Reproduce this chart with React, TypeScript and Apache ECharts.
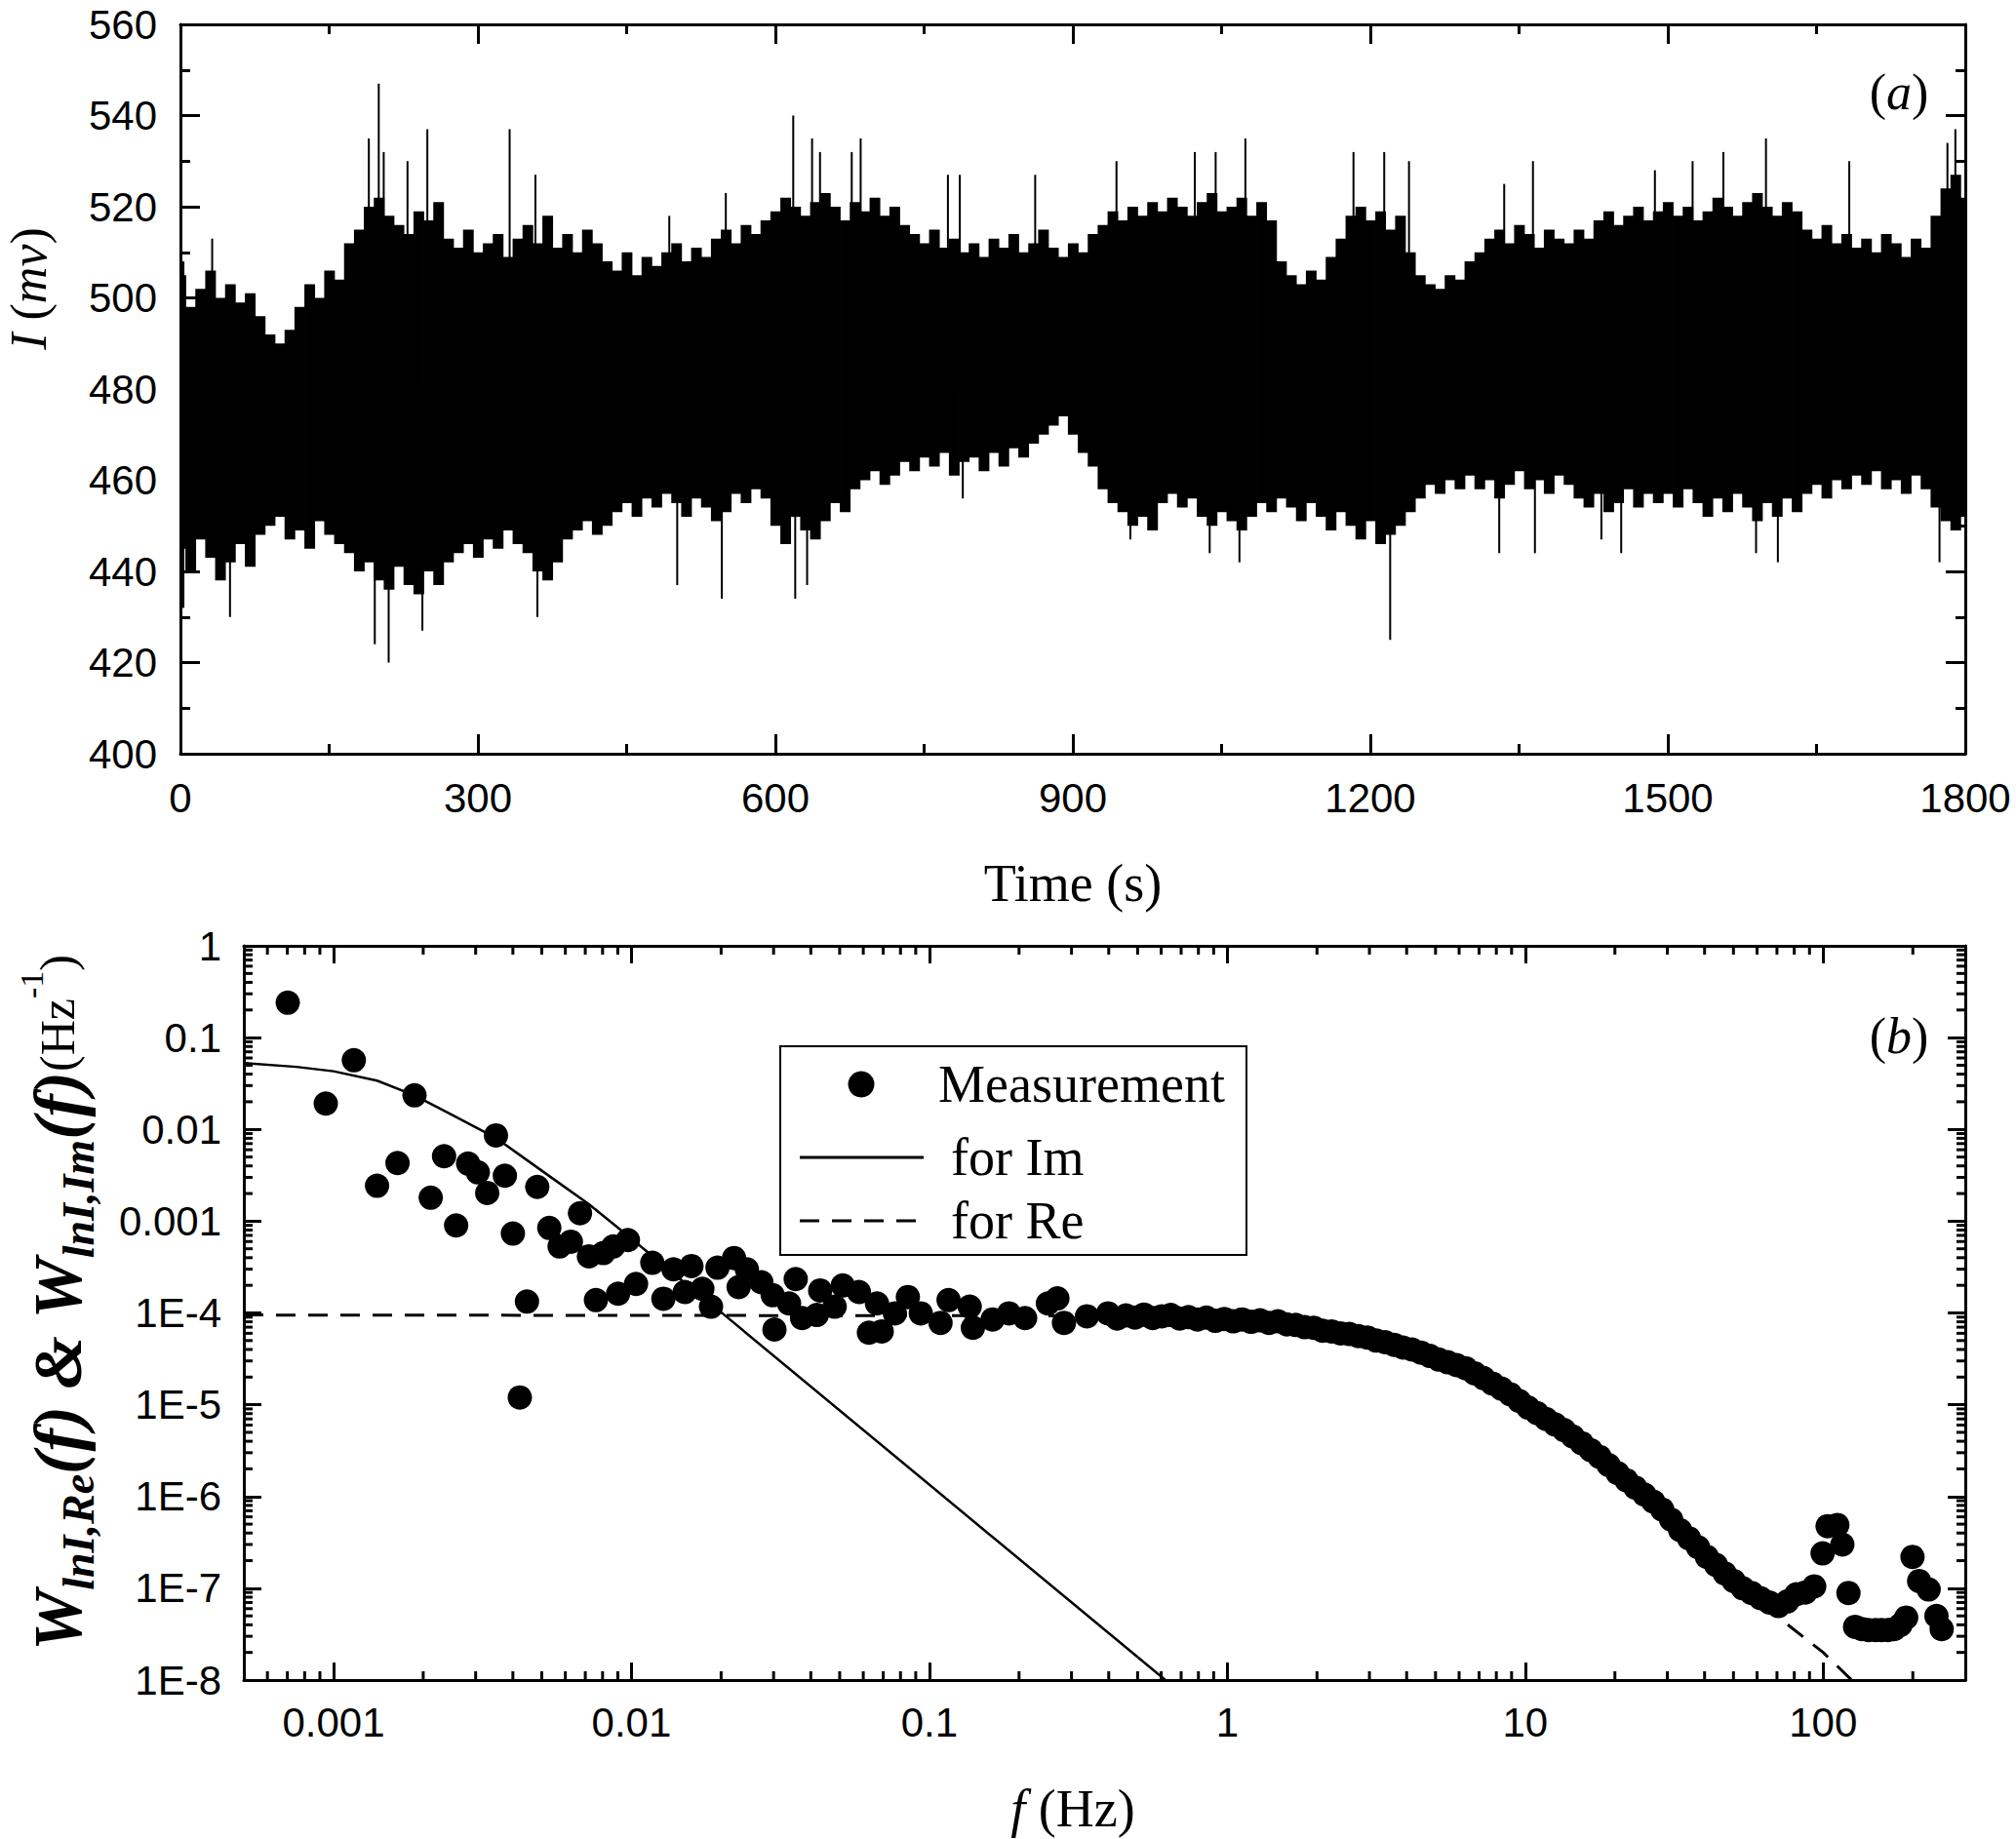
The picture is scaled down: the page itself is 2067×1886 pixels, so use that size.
import React, { useEffect, useRef } from 'react';
import * as echarts from 'echarts';

// ---- panel (a): current trace, read as 10 s envelope bins ----
const TIME_STEP = 10;
const upperEnv = [
  505, 498, 502, 506, 500, 503, 499, 501, 496, 492,
  490, 493, 498, 503, 500, 506, 504, 512, 515, 520,
  522, 518, 516, 514, 519, 517, 521, 513, 511, 515,
  510, 512, 514, 509, 513, 516, 512, 518, 511, 514,
  510, 515, 512, 508, 506, 510, 505, 509, 507, 510,
  512, 508, 511, 509, 513, 515, 512, 516, 514, 517,
  519, 522, 520, 518, 521, 523, 520, 517, 521, 519,
  522, 518, 520, 516, 514, 512, 515, 511, 513, 510,
  512, 509, 513, 511, 514, 510, 512, 515, 511, 509,
  512, 510, 514, 516, 519, 517, 520, 518, 521, 519,
  522, 520, 518, 521, 523, 519, 520, 522, 518, 521,
  517, 508, 505, 503, 506, 504, 509, 513, 518, 520,
  517, 519, 515, 518, 510, 505, 503, 502, 505, 504,
  508, 510, 513, 515, 512, 516, 514, 511, 515, 513,
  512, 515, 513, 517, 519, 516, 518, 520, 517, 519,
  521, 518, 520, 517, 519, 522, 520, 518, 521, 523,
  520, 518, 521, 519, 515, 513, 516, 512, 514, 511,
  513, 510, 514, 512, 509, 513, 511, 518, 524, 527,
  522,
];
const lowerEnv = [
  445, 440, 447, 443, 438, 442, 446, 441, 448, 450,
  452, 447, 449, 445, 451, 448, 446, 444, 440, 442,
  438, 436, 441, 437, 435, 440, 437, 442, 444, 446,
  443, 447, 445, 449, 446, 444, 440, 438, 442, 447,
  449, 451, 448, 450, 453, 455, 452, 456, 454, 457,
  455, 452, 456, 454, 451, 453, 457, 455, 458, 456,
  450, 446, 452, 449, 447, 451, 455, 453, 458, 460,
  462, 459, 461, 464, 462, 465, 463, 466, 461, 464,
  465, 462, 466, 463, 467, 465, 468, 470, 472, 474,
  470, 466, 463, 458, 455, 453, 450, 452, 449, 455,
  457, 454, 456, 452, 450, 453, 451, 449, 452, 455,
  453, 456, 454, 451, 455, 452, 449, 453, 450, 447,
  451, 446, 448, 450, 453, 456, 459, 457, 460, 458,
  461, 458, 460, 456, 459, 462, 458, 460, 457, 461,
  459, 456, 454, 457, 453, 455, 458, 454, 457, 455,
  457, 454, 458, 455, 452, 456, 453, 457, 454, 451,
  455, 452, 456, 453, 457, 459, 456, 460, 458, 461,
  459, 462, 458, 460, 457, 461, 458, 454, 451, 449,
  452,
];
const SPIKE_BASE = 480;
const spikeUpTime = [3, 32, 190, 200, 205, 229, 249, 332, 358, 493, 550, 618, 637, 645, 677, 686, 774, 786, 862, 944, 1023, 1044, 1074, 1183, 1214, 1239, 1335, 1364, 1487, 1525, 1556, 1599, 1683, 1782, 1790];
const spikeUpValue = [508, 513, 535, 547, 532, 530, 537, 537, 527, 518, 523, 540, 535, 532, 532, 535, 527, 527, 527, 530, 532, 532, 535, 532, 532, 530, 525, 530, 528, 530, 532, 535, 530, 534, 537];
const spikeDownTime = [3, 50, 196, 210, 244, 360, 501, 546, 620, 632, 789, 958, 1038, 1068, 1220, 1330, 1366, 1433, 1453, 1589, 1611, 1774, 1788];
const spikeDownValue = [432, 430, 424, 420, 427, 430, 437, 434, 434, 437, 456, 447, 444, 442, 425, 444, 444, 447, 444, 444, 442, 442, 449];

// ---- panel (b): spectra ----
const measFreq = [
  0.000702, 0.000942, 0.00117, 0.0014, 0.00164, 0.00187, 0.00212, 0.00235, 0.00258, 0.00283,
  0.00305, 0.00328, 0.00351, 0.00376, 0.004, 0.00422, 0.00446, 0.00483, 0.0053, 0.00574,
  0.00626, 0.00672, 0.0072, 0.0076, 0.00805, 0.00869, 0.00902, 0.00973, 0.01036, 0.01175,
  0.0128, 0.01384, 0.0151, 0.0159, 0.0173, 0.0185, 0.01945, 0.0221, 0.0229, 0.0244,
  0.0273, 0.0298, 0.0302, 0.0338, 0.0356, 0.0374, 0.0419, 0.043, 0.0481, 0.0512,
  0.058, 0.0627, 0.0667, 0.0692, 0.0766, 0.0847, 0.0936, 0.109, 0.116, 0.1366,
  0.14, 0.163, 0.185, 0.2096, 0.25, 0.269, 0.283, 0.338,
  0.398, 0.427, 0.457, 0.49, 0.525, 0.562, 0.603, 0.646, 0.692, 0.741,
  0.794, 0.851, 0.912, 0.977, 1.047, 1.122, 1.202, 1.288, 1.38, 1.479,
  1.585, 1.698, 1.82, 1.95, 2.089, 2.239, 2.399, 2.57, 2.754, 2.951,
  3.162, 3.388, 3.631, 3.89, 4.169, 4.467, 4.786, 5.129, 5.495, 5.888,
  6.31, 6.761, 7.244, 7.762, 8.318, 8.913, 9.55, 10.23, 10.96, 11.75,
  12.59, 13.49, 14.45, 15.49, 16.6, 17.78, 19.05, 20.42, 21.88, 23.44,
  25.12, 26.92, 28.84, 30.9, 33.11, 35.48, 38.02, 40.74, 43.65, 46.77,
  50.12, 53.7, 57.54, 61.66, 66.07, 70.79, 75.86, 81.28, 87.1, 93.33,
  99.6, 103.5, 111.6, 116, 121.6, 128, 135, 142, 150, 157,
  165, 173, 182, 190, 199.5, 210, 226, 240, 250,
];
const measValue = [
  0.24, 0.0191, 0.0567, 0.00243, 0.0043, 0.0235, 0.0018, 0.0051, 0.000898, 0.00424,
  0.0034, 0.00203, 0.0086, 0.00313, 0.000733, 1.2e-5, 0.000133, 0.00236, 0.000843, 0.00053,
  0.000598, 0.00122, 0.000414, 0.000138, 0.000449, 0.00053, 0.000162, 0.000622, 0.000207, 0.000352,
  0.000143, 0.000299, 0.000169, 0.000324, 0.000183, 0.000117, 0.000311, 0.000397, 0.000191, 0.000299,
  0.000216, 0.000156, 6.6e-5, 0.000127, 0.000234, 8.8e-5, 9.5e-5, 0.000176, 0.000117, 0.000199,
  0.000169, 6.1e-5, 0.000127, 6.3e-5, 9.9e-5, 0.000149, 9.9e-5, 7.8e-5, 0.000138, 0.000117,
  6.9e-5, 8.5e-5, 9.9e-5, 8.8e-5, 0.000127, 0.000144, 7.8e-5, 9.2e-5,
  9.9e-5, 8.7e-5, 9.4e-5, 8.9e-5, 9.6e-5, 8.8e-5, 9.2e-5, 9.5e-5, 8.7e-5, 9.0e-5,
  8.5e-5, 8.9e-5, 8.2e-5, 8.6e-5, 8.1e-5, 8.5e-5, 8.0e-5, 8.3e-5, 7.8e-5, 8.1e-5,
  7.5e-5, 7.4e-5, 7.0e-5, 6.9e-5, 6.4e-5, 6.3e-5, 6.0e-5, 5.9e-5, 5.6e-5, 5.4e-5,
  5.0e-5, 4.8e-5, 4.5e-5, 4.2e-5, 4.0e-5, 3.7e-5, 3.4e-5, 3.1e-5, 2.9e-5, 2.7e-5,
  2.5e-5, 2.2e-5, 1.95e-5, 1.7e-5, 1.5e-5, 1.3e-5, 1.1e-5, 9.3e-6, 8.1e-6, 7.0e-6,
  6.1e-6, 5.3e-6, 4.5e-6, 3.8e-6, 3.2e-6, 2.7e-6, 2.2e-6, 1.8e-6, 1.5e-6, 1.25e-6,
  1.05e-6, 8.8e-7, 7.2e-7, 5.6e-7, 4.3e-7, 3.5e-7, 2.8e-7, 2.2e-7, 1.8e-7, 1.45e-7,
  1.2e-7, 1.0e-7, 8.9e-8, 7.8e-8, 7.0e-8, 6.4e-8, 7.2e-8, 8.6e-8, 9.0e-8, 1.05e-7,
  2.4e-7, 4.75e-7, 4.9e-7, 3.0e-7, 8.9e-8, 3.8e-8, 3.6e-8, 3.5e-8, 3.5e-8, 3.5e-8,
  3.5e-8, 3.6e-8, 4.0e-8, 4.8e-8, 2.2e-7, 1.2e-7, 9.7e-8, 5.0e-8, 3.6e-8,
];
const imFreq = [0.0005, 0.00075, 0.001, 0.0014, 0.00187, 0.0025, 0.0035, 0.0053, 0.0072, 0.0097, 0.014, 0.0202, 0.62];
const imValue = [0.053, 0.048, 0.043, 0.034, 0.0235, 0.0144, 0.0081, 0.0031, 0.00153, 0.0007, 0.00026, 9.9e-5, 1e-8];
const reFreq = [0.0005, 0.3, 1, 2, 3, 4.3, 6.3, 10, 15.5, 21.5, 33, 42, 57, 74, 100, 122, 130];
const reValue = [9.5e-5, 9.3e-5, 8.6e-5, 7.0e-5, 5.5e-5, 4.0e-5, 2.5e-5, 1.05e-5, 3.9e-6, 1.6e-6, 4.4e-7, 2.0e-7, 8.5e-8, 4.3e-8, 2.0e-8, 1.07e-8, 9e-9];

const freqTickLabels = ['0.001', '0.01', '0.1', '1', '10', '100']; // 1e-3 .. 1e2
const psdTickLabels = ['1E-8', '1E-7', '1E-6', '1E-5', '1E-4', '0.001', '0.01', '0.1', '1']; // 1e-8 .. 1
const legendNames = ['Measurement', 'for Im', 'for Re'];

const SANS = 'Liberation Sans';
const SERIF = 'Liberation Serif';

function decadeLabel(labels: string[], offset: number) {
  return (v: number) => {
    const e = Math.log10(v);
    const r = Math.round(e);
    if (Math.abs(e - r) > 0.01) return '';
    return labels[r + offset] ?? '';
  };
}

function logMinor(lo: number, hi: number) {
  const out: number[] = [];
  for (let e = Math.floor(Math.log10(lo)); e <= Math.ceil(Math.log10(hi)); e++) {
    for (let k = 2; k <= 9; k++) {
      const v = k * Math.pow(10, e);
      if (v > lo * 1.02 && v < hi * 0.98) out.push(v);
    }
  }
  return out;
}

const axisLine = { show: true, onZero: false, lineStyle: { color: '#000', width: 3 } };

export default function App() {
  const ref = useRef<HTMLDivElement>(null);

  useEffect(() => {
    if (!ref.current) return;
    const chart = echarts.init(ref.current, null, { renderer: 'svg' });

    const FMIN = 0.0005, FMAX = 300, PMIN = 1e-8, PMAX = 1;

    const linAxis = (extra: any) => ({
      type: 'value',
      axisLine,
      axisTick: { show: true, inside: true, length: 20, lineStyle: { color: '#000', width: 3 } },
      minorTick: { show: true, splitNumber: 2, length: 10, lineStyle: { color: '#000', width: 3 } },
      splitLine: { show: false },
      minorSplitLine: { show: false },
      ...extra,
    });
    const logAxis = (extra: any) => ({
      type: 'log',
      logBase: 10,
      axisLine,
      axisTick: { show: true, inside: true, length: 18, lineStyle: { color: '#000', width: 3 } },
      minorTick: { show: false },
      splitLine: { show: false },
      ...extra,
    });
    const label = (margin: number, extra: any = {}) => ({
      show: true, color: '#000', fontFamily: SANS, fontSize: 42, margin, ...extra,
    });
    const plain = (v: number) => String(v);

    const minorStyle = { stroke: '#000', lineWidth: 3 };
    const serifText = (x: number, y: number, text: string, size: number, extra: any = {}) => ({
      type: 'text', x, y, silent: true,
      style: {
        text, fontFamily: SERIF, fontSize: size, fill: '#000', align: 'left', verticalAlign: 'middle',
        rich: { i: { fontFamily: SERIF, fontSize: size, fontStyle: 'italic', fill: '#000' } },
        ...extra,
      },
    });

    chart.setOption({
      animation: false,
      backgroundColor: '#fff',
      grid: [
        { left: 185, top: 25, width: 1830, height: 748, containLabel: false, outerBoundsMode: 'none' },
        { left: 250, top: 970, width: 1765, height: 753, containLabel: false, outerBoundsMode: 'none' },
      ],
      xAxis: [
        linAxis({ gridIndex: 0, position: 'bottom', min: 0, max: 1800, interval: 300, axisLabel: label(24, { formatter: plain }) }),
        linAxis({ gridIndex: 0, position: 'top', min: 0, max: 1800, interval: 300, axisLabel: { show: false } }),
        logAxis({ gridIndex: 1, position: 'bottom', min: FMIN, max: FMAX,
          axisLabel: label(22, { formatter: decadeLabel(freqTickLabels, 3), showMinLabel: true, showMaxLabel: true }) }),
        logAxis({ gridIndex: 1, position: 'top', min: FMIN, max: FMAX, axisLabel: { show: false } }),
      ],
      yAxis: [
        linAxis({ gridIndex: 0, position: 'left', min: 400, max: 560, interval: 20, axisLabel: label(24, { formatter: plain }) }),
        linAxis({ gridIndex: 0, position: 'right', min: 400, max: 560, interval: 20, axisLabel: { show: false } }),
        logAxis({ gridIndex: 1, position: 'left', min: PMIN, max: PMAX,
          axisLabel: label(23, { formatter: decadeLabel(psdTickLabels, 8) }) }),
        logAxis({ gridIndex: 1, position: 'right', min: PMIN, max: PMAX, axisLabel: { show: false } }),
      ],
      series: [
        {
          type: 'custom',
          xAxisIndex: 0,
          yAxisIndex: 0,
          clip: true,
          silent: true,
          data: upperEnv.map((hi, i) => [i * TIME_STEP, hi, lowerEnv[i]]),
          renderItem: (params: any, api: any) => {
            const t = api.value(0);
            const pTop = api.coord([t, api.value(1)]);
            const pBot = api.coord([t, api.value(2)]);
            const w = api.size([TIME_STEP, 0])[0];
            return {
              type: 'rect',
              shape: { x: pTop[0] - w / 2, y: pTop[1], width: w + 0.8, height: pBot[1] - pTop[1] },
              style: { fill: '#000' },
            };
          },
        },
        {
          type: 'custom',
          xAxisIndex: 0,
          yAxisIndex: 0,
          clip: true,
          silent: true,
          data: [
            ...spikeUpTime.map((t, i) => [t, spikeUpValue[i]]),
            ...spikeDownTime.map((t, i) => [t, spikeDownValue[i]]),
          ],
          renderItem: (params: any, api: any) => {
            const p1 = api.coord([api.value(0), SPIKE_BASE]);
            const p2 = api.coord([api.value(0), api.value(1)]);
            return {
              type: 'line',
              shape: { x1: p1[0], y1: p1[1], x2: p2[0], y2: p2[1] },
              style: { stroke: '#000', lineWidth: 2 },
            };
          },
        },
        {
          type: 'custom',
          xAxisIndex: 2,
          yAxisIndex: 2,
          silent: true,
          data: logMinor(FMIN, FMAX).map((v) => [v, 1e-4]),
          renderItem: (params: any, api: any) => {
            const cs = params.coordSys;
            const x = api.coord([api.value(0), 1e-4])[0];
            return {
              type: 'group',
              children: [
                { type: 'line', shape: { x1: x, y1: cs.y + cs.height, x2: x, y2: cs.y + cs.height - 9 }, style: minorStyle },
                { type: 'line', shape: { x1: x, y1: cs.y, x2: x, y2: cs.y + 9 }, style: minorStyle },
              ],
            };
          },
        },
        {
          type: 'custom',
          xAxisIndex: 2,
          yAxisIndex: 2,
          silent: true,
          data: logMinor(PMIN, PMAX).map((v) => [1, v]),
          renderItem: (params: any, api: any) => {
            const cs = params.coordSys;
            const y = api.coord([1, api.value(1)])[1];
            return {
              type: 'group',
              children: [
                { type: 'line', shape: { x1: cs.x, y1: y, x2: cs.x + 9, y2: y }, style: minorStyle },
                { type: 'line', shape: { x1: cs.x + cs.width, y1: y, x2: cs.x + cs.width - 9, y2: y }, style: minorStyle },
              ],
            };
          },
        },
        {
          name: legendNames[0],
          type: 'scatter',
          xAxisIndex: 2,
          yAxisIndex: 2,
          symbol: 'circle',
          symbolSize: 25,
          itemStyle: { color: '#000', opacity: 1 },
          data: measFreq.map((f, i) => [f, measValue[i]]),
        },
        {
          name: legendNames[1],
          type: 'line',
          xAxisIndex: 2,
          yAxisIndex: 2,
          showSymbol: false,
          symbol: 'none',
          smooth: false,
          lineStyle: { color: '#000', width: 2.5, type: 'solid' },
          data: imFreq.map((f, i) => [f, imValue[i]]),
        },
        {
          name: legendNames[2],
          type: 'line',
          xAxisIndex: 2,
          yAxisIndex: 2,
          showSymbol: false,
          symbol: 'none',
          smooth: false,
          lineStyle: { color: '#000', width: 3, type: [20, 13] },
          data: reFreq.map((f, i) => [f, reValue[i]]),
        },
      ],
      graphic: [
        {
          type: 'text', x: 29, y: 296, rotation: Math.PI / 2, silent: true,
          style: {
            text: '{i|I} ({i|mv})', fontFamily: SERIF, fontSize: 52, fill: '#000', align: 'center', verticalAlign: 'middle',
            rich: { i: { fontFamily: SERIF, fontSize: 52, fontStyle: 'italic', fill: '#000' } },
          },
        },
        serifText(1100, 906, 'Time (s)', 54, { align: 'center' }),
        serifText(1100, 1855, '{i|f} (Hz)', 54, { align: 'center' }),
        serifText(1947, 94, '({i|a})', 52, { align: 'center' }),
        serifText(1947, 1062, '({i|b})', 52, { align: 'center' }),
        {
          type: 'text', x: 59, y: 1336, rotation: Math.PI / 2, silent: true,
          style: {
            text: '{w|W}{sub|lnI,Re}{w|(f)} {w|&} {w|W}{sub|lnI,Im}{w|(f)}{hz|(Hz}{sup|-1}{hz|)}',
            fontFamily: SERIF, fontSize: 70, fontWeight: 'bold', fill: '#000', align: 'center', verticalAlign: 'middle',
            rich: {
              w: { fontFamily: SERIF, fontSize: 70, fontWeight: 'bold', fontStyle: 'italic', lineHeight: 88, verticalAlign: 'middle', fill: '#000' },
              sub: { fontFamily: SERIF, fontSize: 46, fontWeight: 'bold', fontStyle: 'italic', lineHeight: 44, verticalAlign: 'bottom', fill: '#000' },
              hz: { fontFamily: SERIF, fontSize: 50, lineHeight: 88, verticalAlign: 'middle', fill: '#000' },
              sup: { fontFamily: SERIF, fontSize: 34, lineHeight: 44, verticalAlign: 'top', fill: '#000' },
            },
          },
        },
        // legend box
        {
          type: 'rect', silent: true,
          shape: { x: 800, y: 1073, width: 478, height: 214 },
          style: { fill: 'none', stroke: '#000', lineWidth: 2 },
        },
        { type: 'circle', silent: true, shape: { cx: 883, cy: 1112, r: 13.5 }, style: { fill: '#000' } },
        serifText(962, 1112, legendNames[0], 54),
        { type: 'line', silent: true, shape: { x1: 820, y1: 1187, x2: 947, y2: 1187 }, style: { stroke: '#000', lineWidth: 3 } },
        serifText(975, 1187, legendNames[1], 54),
        {
          type: 'line', silent: true, shape: { x1: 820, y1: 1252, x2: 947, y2: 1252 },
          style: { stroke: '#000', lineWidth: 3, lineDash: [20, 13] },
        },
        serifText(975, 1252, legendNames[2], 54),
      ],
    });

    return () => chart.dispose();
  }, []);

  return (
    <div
      ref={ref}
      style={{ position: 'absolute', left: 0, top: 0, width: 2067, height: 1886, background: '#fff' }}
    />
  );
}
